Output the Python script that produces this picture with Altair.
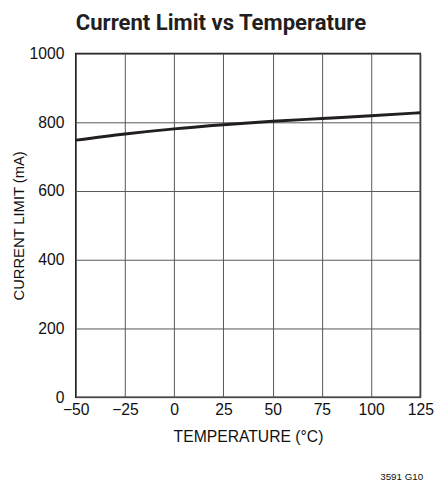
import altair as alt
import pandas as pd

temps = [-50, -25, 0, 25, 50, 75, 100, 125]
current = [748, 766, 781, 793, 803, 811, 819, 828]
x_ticks = [-50, -25, 0, 25, 50, 75, 100, 125]
y_ticks = [0, 200, 400, 600, 800, 1000]
note = ["3591 G10"]

df = pd.DataFrame({"temp": temps, "current": current})
FONT = "Liberation Sans, Arial, sans-serif"

common = dict(ticks=False, domain=False, gridColor="#555", gridWidth=1,
              labelFontSize=16, labelFont=FONT, titleFont=FONT,
              labelColor="#111", titleColor="#111", titleFontWeight="normal", format="d",
              labelFlush=False)

line = alt.Chart(df).mark_line(color="#231f20", strokeWidth=3, interpolate="monotone").encode(
    x=alt.X("temp:Q", scale=alt.Scale(domain=[-50, 125], nice=False),
            axis=alt.Axis(values=x_ticks, title="TEMPERATURE (°C)", labelPadding=5,
                          titlePadding=11, titleFontSize=16, **common)),
    y=alt.Y("current:Q", scale=alt.Scale(domain=[0, 1000], nice=False),
            axis=alt.Axis(values=y_ticks, title="CURRENT LIMIT (mA)", labelPadding=12,
                          titlePadding=3, titleFontSize=15, **common)),
)

foot = alt.Chart(pd.DataFrame({"t": note})).mark_text(
    font=FONT, fontSize=10, color="#111", align="right", baseline="middle"
).encode(text="t:N", x=alt.value(354), y=alt.value(431))

chart = alt.layer(line, foot).properties(
    width=351, height=350,
    title=alt.TitleParams("Current Limit vs Temperature", anchor="start", frame="group",
                          font="Roboto", fontSize=22.5, fontWeight="bold", color="#231f20",
                          offset=12),
    autosize=alt.AutoSizeParams(type="none"),
    padding={"left": 69, "top": 42, "right": 17, "bottom": 85},
).configure_view(stroke="#111", strokeWidth=1.5)

chart.save("out.html", embed_options={"renderer": "svg", "actions": False})
